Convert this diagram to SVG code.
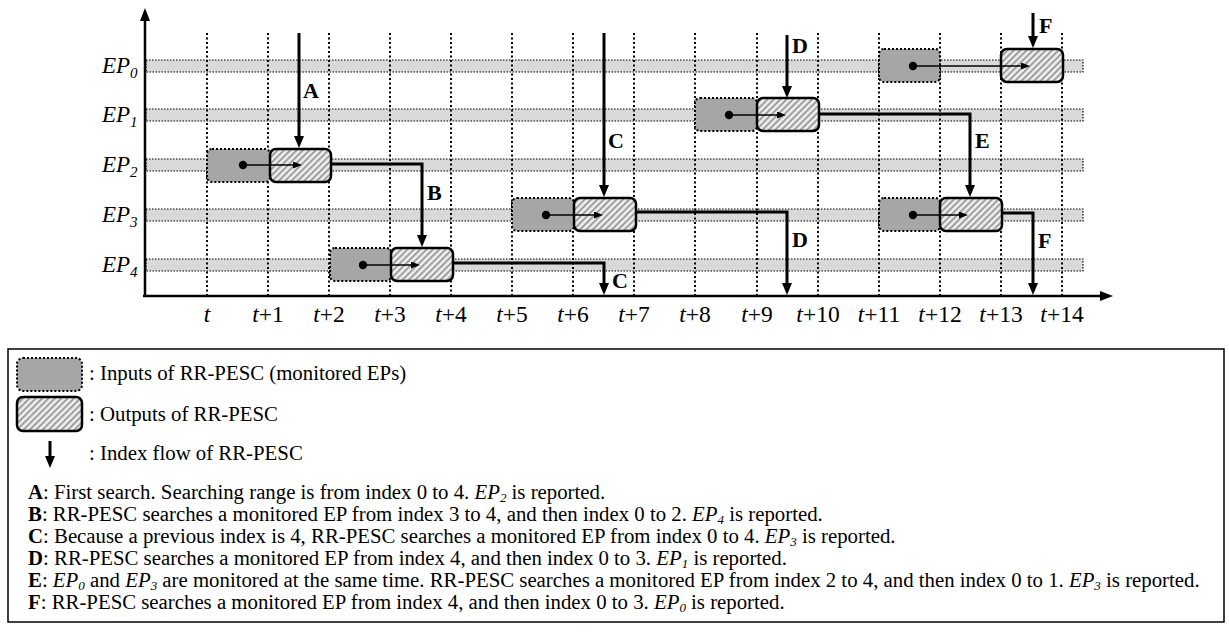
<svg xmlns="http://www.w3.org/2000/svg" width="1229" height="633" viewBox="0 0 1229 633">
<style>
.band{fill:#d9d9d9;stroke:#000;stroke-width:1.2;stroke-dasharray:1.5 1.5}
.grid{stroke:#000;stroke-width:2;stroke-dasharray:2 2.5;fill:none}
.in{fill:#a6a6a6;stroke:#000;stroke-width:2;stroke-dasharray:2 2}
.out{fill:url(#hatch);stroke:#000;stroke-width:2.5}
.dot{fill:#000}
.sm{stroke:#000;stroke-width:1.5;fill:none;marker-end:url(#smArrow)}
.flow{stroke:#000;stroke-width:3;fill:none;marker-end:url(#bigArrow)}
.axis{stroke:#000;stroke-width:2.5;fill:none;marker-end:url(#axArrow)}
.ep{font-family:"Liberation Serif","Times New Roman",serif;font-style:italic;font-size:23px}
.tl{font-family:"Liberation Serif","Times New Roman",serif;font-size:23.5px;text-anchor:middle}
.lbl{font-family:"Liberation Serif","Times New Roman",serif;font-weight:bold;font-size:22px}
.lg{font-family:"Liberation Serif","Times New Roman",serif;font-size:20.8px}
.it{font-style:italic}
.sub{font-size:13px}
</style>
<defs>
<pattern id="hatch" patternUnits="userSpaceOnUse" width="4.5" height="4.5" patternTransform="rotate(45)">
<rect width="4.5" height="4.5" fill="#ededed"/>
<line x1="1" y1="0" x2="1" y2="4.5" stroke="#999" stroke-width="1.8"/>
</pattern>
<marker id="bigArrow" markerUnits="userSpaceOnUse" markerWidth="14" markerHeight="12" refX="4" refY="5" orient="auto">
<path d="M0,0 L12,5 L0,10 z" fill="#000"/>
</marker>
<marker id="smArrow" markerUnits="userSpaceOnUse" markerWidth="10" markerHeight="8" refX="3" refY="3.5" orient="auto">
<path d="M0,0 L9,3.5 L0,7 z" fill="#000"/>
</marker>
<marker id="axArrow" markerUnits="userSpaceOnUse" markerWidth="14" markerHeight="12" refX="3" refY="5" orient="auto">
<path d="M0,0 L13,5 L0,10 z" fill="#000"/>
</marker>
</defs>
<rect width="1229" height="633" fill="#fff"/>

<g id="bands">
<rect class="band" x="146" y="60" width="937" height="12"/>
<rect class="band" x="146" y="109" width="937" height="12"/>
<rect class="band" x="146" y="159" width="937" height="12"/>
<rect class="band" x="146" y="209" width="937" height="12"/>
<rect class="band" x="146" y="259" width="937" height="12"/>
</g>

<g id="grid">
<path class="grid" d="M207,33V295M268,33V295M329,33V295M390,33V295M451,33V295M512,33V295M573,33V295M634,33V295M695,33V295M757,33V295M818,33V295M879,33V295M940,33V295M1001,33V295M1062,33V295"/>
</g>

<g id="axes">
<path class="axis" d="M145,297V18"/>
<path class="axis" d="M143,296H1103"/>
</g>

<g id="ep-labels">
<text class="ep" x="102" y="73">EP<tspan font-size="15" dy="5">0</tspan></text>
<text class="ep" x="102" y="122">EP<tspan font-size="15" dy="5">1</tspan></text>
<text class="ep" x="102" y="172">EP<tspan font-size="15" dy="5">2</tspan></text>
<text class="ep" x="102" y="222">EP<tspan font-size="15" dy="5">3</tspan></text>
<text class="ep" x="102" y="272">EP<tspan font-size="15" dy="5">4</tspan></text>
</g>

<g id="time-labels">
<text class="tl" x="207" y="322"><tspan class="it">t</tspan></text>
<text class="tl" x="268" y="322"><tspan class="it">t</tspan>+1</text>
<text class="tl" x="329" y="322"><tspan class="it">t</tspan>+2</text>
<text class="tl" x="390" y="322"><tspan class="it">t</tspan>+3</text>
<text class="tl" x="451" y="322"><tspan class="it">t</tspan>+4</text>
<text class="tl" x="512" y="322"><tspan class="it">t</tspan>+5</text>
<text class="tl" x="573" y="322"><tspan class="it">t</tspan>+6</text>
<text class="tl" x="634" y="322"><tspan class="it">t</tspan>+7</text>
<text class="tl" x="695" y="322"><tspan class="it">t</tspan>+8</text>
<text class="tl" x="757" y="322"><tspan class="it">t</tspan>+9</text>
<text class="tl" x="818" y="322"><tspan class="it">t</tspan>+10</text>
<text class="tl" x="879" y="322"><tspan class="it">t</tspan>+11</text>
<text class="tl" x="940" y="322"><tspan class="it">t</tspan>+12</text>
<text class="tl" x="1001" y="322"><tspan class="it">t</tspan>+13</text>
<text class="tl" x="1062" y="322"><tspan class="it">t</tspan>+14</text>
</g>

<g id="node-ep2-t">
<rect class="in" x="207" y="149" width="63" height="33" rx="5"/>
<rect class="out" x="270" y="149" width="61" height="33" rx="6"/>
<circle class="dot" cx="243" cy="165" r="4.2"/>
<path class="sm" d="M243,165H296"/>
</g>
<g id="node-ep4-t2">
<rect class="in" x="330" y="248" width="61" height="33" rx="5"/>
<rect class="out" x="391" y="248" width="62" height="33" rx="6"/>
<circle class="dot" cx="363" cy="265" r="4.2"/>
<path class="sm" d="M363,265H414"/>
</g>
<g id="node-ep3-t5">
<rect class="in" x="512" y="198" width="62" height="33" rx="5"/>
<rect class="out" x="574" y="198" width="62" height="33" rx="6"/>
<circle class="dot" cx="546" cy="215" r="4.2"/>
<path class="sm" d="M546,215H597"/>
</g>
<g id="node-ep1-t8">
<rect class="in" x="695" y="98" width="62" height="33" rx="5"/>
<rect class="out" x="757" y="98" width="62" height="33" rx="6"/>
<circle class="dot" cx="729" cy="115" r="4.2"/>
<path class="sm" d="M729,115H780"/>
</g>
<g id="node-ep0-t11">
<rect class="in" x="879" y="49" width="61" height="33" rx="5"/>
<rect class="out" x="1001" y="49" width="62" height="33" rx="6"/>
<circle class="dot" cx="913" cy="66" r="4.2"/>
<path class="sm" d="M913,66H1024"/>
</g>
<g id="node-ep3-t11">
<rect class="in" x="879" y="198" width="61" height="33" rx="5"/>
<rect class="out" x="940" y="198" width="62" height="33" rx="6"/>
<circle class="dot" cx="913" cy="215" r="4.2"/>
<path class="sm" d="M913,215H962"/>
</g>

<g id="connectors">
<path class="flow" d="M299,33V140"/>
<path class="flow" d="M331,164H422V239"/>
<path class="flow" d="M604,33V189"/>
<path class="flow" d="M453,263H604V287"/>
<path class="flow" d="M787,35V90"/>
<path class="flow" d="M636,212H787V287"/>
<path class="flow" d="M819,114H970V189"/>
<path class="flow" d="M1033,13V40"/>
<path class="flow" d="M1002,213H1033V287"/>
</g>

<g id="flow-labels">
<text class="lbl" x="303" y="98">A</text>
<text class="lbl" x="427" y="200">B</text>
<text class="lbl" x="608" y="148">C</text>
<text class="lbl" x="612" y="288">C</text>
<text class="lbl" x="792" y="53">D</text>
<text class="lbl" x="792" y="247">D</text>
<text class="lbl" x="975" y="148">E</text>
<text class="lbl" x="1039" y="33">F</text>
<text class="lbl" x="1038" y="248">F</text>
</g>

<g id="legend">
<rect x="8" y="349" width="1216" height="273" fill="none" stroke="#000" stroke-width="1.5"/>
<rect class="in" x="17" y="358" width="65" height="33" rx="6"/>
<rect class="out" x="17" y="397" width="65" height="34" rx="6"/>
<path class="flow" d="M50,441V460"/>
<text class="lg" x="89" y="380">: Inputs of RR-PESC (monitored EPs)</text>
<text class="lg" x="89" y="421">: Outputs of RR-PESC</text>
<text class="lg" x="89" y="460">: Index flow of RR-PESC</text>
<text class="lg" x="28" y="499"><tspan font-weight="bold">A</tspan>: First search. Searching range is from index 0 to 4. <tspan class="it">EP<tspan class="sub" dy="3">2</tspan></tspan><tspan dy="-3"> is reported.</tspan></text>
<text class="lg" x="28" y="521"><tspan font-weight="bold">B</tspan>: RR-PESC searches a monitored EP from index 3 to 4, and then index 0 to 2. <tspan class="it">EP<tspan class="sub" dy="3">4</tspan></tspan><tspan dy="-3"> is reported.</tspan></text>
<text class="lg" x="28" y="543"><tspan font-weight="bold">C</tspan>: Because a previous index is 4, RR-PESC searches a monitored EP from index 0 to 4. <tspan class="it">EP<tspan class="sub" dy="3">3</tspan></tspan><tspan dy="-3"> is reported.</tspan></text>
<text class="lg" x="28" y="565"><tspan font-weight="bold">D</tspan>: RR-PESC searches a monitored EP from index 4, and then index 0 to 3. <tspan class="it">EP<tspan class="sub" dy="3">1</tspan></tspan><tspan dy="-3"> is reported.</tspan></text>
<text class="lg" x="28" y="587"><tspan font-weight="bold">E</tspan>: <tspan class="it">EP<tspan class="sub" dy="3">0</tspan></tspan><tspan dy="-3"> and </tspan><tspan class="it">EP<tspan class="sub" dy="3">3</tspan></tspan><tspan dy="-3"> are monitored at the same time. RR-PESC searches a monitored EP from index 2 to 4, and then index 0 to 1. </tspan><tspan class="it">EP<tspan class="sub" dy="3">3</tspan></tspan><tspan dy="-3"> is reported.</tspan></text>
<text class="lg" x="28" y="609"><tspan font-weight="bold">F</tspan>: RR-PESC searches a monitored EP from index 4, and then index 0 to 3. <tspan class="it">EP<tspan class="sub" dy="3">0</tspan></tspan><tspan dy="-3"> is reported.</tspan></text>
</g>
</svg>
